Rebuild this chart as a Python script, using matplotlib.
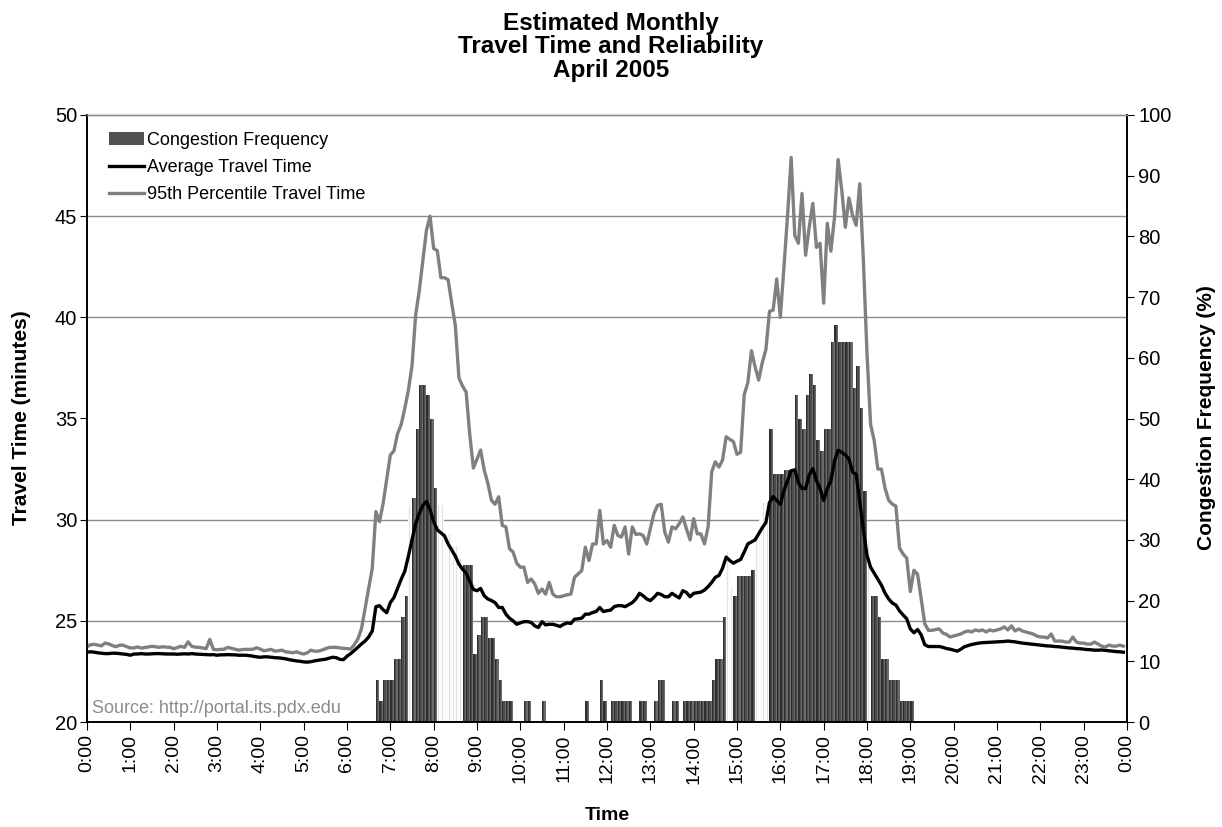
import numpy as np
import matplotlib
matplotlib.use('Agg')
import matplotlib.pyplot as plt
from matplotlib.patches import Patch
from matplotlib.lines import Line2D

plt.rcParams['font.family'] = ['Liberation Sans', 'DejaVu Sans']

# Average travel time (minutes), one value every 5 min, one row per hour
avg_time = [
    23.45, 23.47, 23.45, 23.42, 23.40, 23.38, 23.38, 23.40, 23.40, 23.38, 23.36, 23.34,
    23.30, 23.36, 23.36, 23.38, 23.36, 23.36, 23.37, 23.38, 23.38, 23.37, 23.36, 23.36,
    23.36, 23.35, 23.36, 23.37, 23.36, 23.38, 23.36, 23.35, 23.34, 23.33, 23.32, 23.33,
    23.30, 23.32, 23.32, 23.33, 23.32, 23.32, 23.30, 23.30, 23.30, 23.28, 23.25, 23.22,
    23.20, 23.22, 23.22, 23.20, 23.18, 23.17, 23.15, 23.12, 23.08, 23.05, 23.02, 23.00,
    22.97, 22.96, 22.98, 23.02, 23.05, 23.08, 23.10, 23.15, 23.20, 23.18, 23.10, 23.08,
    23.25, 23.38, 23.53, 23.69, 23.86, 24.00, 24.20, 24.50, 25.70, 25.75, 25.55, 25.40,
    25.90, 26.15, 26.60, 27.05, 27.45, 28.20, 29.00, 29.80, 30.30, 30.70, 30.90, 30.50,
    29.90, 29.50, 29.35, 29.20, 28.80, 28.50, 28.20, 27.80, 27.55, 27.35, 26.95, 26.55,
    26.49, 26.60, 26.24, 26.08, 26.00, 25.90, 25.66, 25.66, 25.33, 25.13, 25.00, 24.83,
    24.90, 24.96, 24.96, 24.92, 24.75, 24.67, 24.96, 24.80, 24.83, 24.83, 24.78, 24.72,
    24.83, 24.90, 24.87, 25.08, 25.10, 25.13, 25.33, 25.33, 25.41, 25.46, 25.66, 25.46,
    25.50, 25.53, 25.70, 25.75, 25.75, 25.70, 25.80, 25.90, 26.08, 26.36, 26.24, 26.08,
    26.00, 26.16, 26.36, 26.30, 26.19, 26.19, 26.36, 26.24, 26.13, 26.49, 26.40, 26.19,
    26.36, 26.39, 26.42, 26.52, 26.69, 26.90, 27.15, 27.24, 27.60, 28.15, 27.98, 27.85,
    27.95, 28.03, 28.40, 28.80, 28.90, 29.00, 29.30, 29.60, 29.86, 30.85, 31.14, 30.95,
    30.75, 31.44, 31.93, 32.42, 32.46, 31.83, 31.54, 31.54, 32.22, 32.52, 31.93, 31.54,
    30.95, 31.53, 31.92, 32.90, 33.43, 33.33, 33.20, 33.00, 32.35, 32.25, 30.88, 29.50,
    28.24, 27.65, 27.35, 27.06, 26.76, 26.37, 26.08, 25.88, 25.78, 25.49, 25.29, 25.10,
    24.60, 24.41, 24.57, 24.31, 23.82, 23.73, 23.73, 23.73, 23.73, 23.69, 23.63, 23.60,
    23.55, 23.50, 23.60, 23.72, 23.78, 23.83, 23.87, 23.90, 23.92, 23.93, 23.94, 23.95,
    23.96, 23.97, 23.98, 24.00, 23.98, 23.96, 23.93, 23.90, 23.88, 23.86, 23.84, 23.82,
    23.80, 23.78, 23.76, 23.75, 23.73, 23.72, 23.70, 23.68, 23.66, 23.65, 23.63, 23.62,
    23.60, 23.58, 23.57, 23.55, 23.55, 23.56, 23.54, 23.52, 23.50, 23.48, 23.47, 23.45,
]

# 95th percentile travel time (minutes)
p95_time = [
    23.72, 23.82, 23.84, 23.80, 23.76, 23.90, 23.86, 23.78, 23.72, 23.79, 23.80, 23.72,
    23.66, 23.66, 23.71, 23.65, 23.68, 23.71, 23.74, 23.72, 23.69, 23.72, 23.70, 23.69,
    23.62, 23.68, 23.74, 23.69, 23.96, 23.74, 23.70, 23.69, 23.66, 23.62, 24.08, 23.59,
    23.57, 23.59, 23.60, 23.69, 23.64, 23.60, 23.55, 23.58, 23.59, 23.59, 23.60, 23.67,
    23.60, 23.52, 23.55, 23.59, 23.50, 23.52, 23.55, 23.47, 23.45, 23.42, 23.47, 23.40,
    23.36, 23.42, 23.55, 23.50, 23.50, 23.55, 23.62, 23.68, 23.69, 23.69, 23.66, 23.64,
    23.63, 23.60, 23.82, 24.10, 24.60, 25.60, 26.60, 27.60, 30.40, 29.90, 30.80, 32.00,
    33.20, 33.40, 34.25, 34.70, 35.50, 36.40, 37.60, 40.10, 41.30, 42.80, 44.30, 45.00,
    43.40, 43.30, 41.96, 41.96, 41.86, 40.70, 39.60, 37.00, 36.60, 36.30, 34.20, 32.55,
    33.00, 33.44, 32.45, 31.80, 30.96, 30.76, 31.13, 29.72, 29.64, 28.56, 28.40, 27.85,
    27.65, 27.65, 26.90, 27.07, 26.82, 26.36, 26.57, 26.32, 26.90, 26.32, 26.19, 26.19,
    26.24, 26.29, 26.32, 27.15, 27.32, 27.48, 28.64, 27.98, 28.80, 28.80, 30.46, 28.80,
    28.97, 28.64, 29.72, 29.22, 29.14, 29.64, 28.30, 29.64, 29.27, 29.30, 29.22, 28.80,
    29.55, 30.30, 30.71, 30.76, 29.39, 28.89, 29.64, 29.55, 29.80, 30.13, 29.55, 29.00,
    30.05, 29.30, 29.30, 28.80, 29.64, 32.37, 32.86, 32.60, 32.95, 34.10, 33.97, 33.86,
    33.23, 33.33, 36.18, 36.77, 38.35, 37.56, 36.90, 37.76, 38.40, 40.30, 40.35, 41.90,
    40.00, 42.48, 45.04, 47.90, 44.05, 43.66, 46.12, 43.07, 44.45, 45.63, 43.46, 43.66,
    40.70, 44.65, 43.27, 44.94, 47.80, 46.30, 44.45, 45.90, 45.04, 44.55, 46.60, 42.80,
    38.20, 34.70, 33.90, 32.50, 32.50, 31.55, 30.96, 30.77, 30.67, 28.60, 28.30, 28.10,
    26.45, 27.50, 27.30, 26.10, 24.86, 24.53, 24.53, 24.57, 24.60, 24.40, 24.33, 24.20,
    24.25, 24.30, 24.35, 24.45, 24.50, 24.45, 24.55, 24.50, 24.55, 24.45, 24.55, 24.50,
    24.55, 24.60, 24.70, 24.55, 24.75, 24.50, 24.60, 24.50, 24.45, 24.40, 24.35, 24.25,
    24.20, 24.20, 24.15, 24.35, 24.00, 24.00, 24.00, 23.95, 23.95, 24.20, 23.95, 23.90,
    23.90, 23.85, 23.85, 23.95, 23.85, 23.75, 23.70, 23.80, 23.75, 23.75, 23.80, 23.75,
]

# Congestion frequency (%), same 5 min slots
congestion_pct = [
    0, 0, 0, 0, 0, 0, 0, 0, 0, 0, 0, 0,
    0, 0, 0, 0, 0, 0, 0, 0, 0, 0, 0, 0,
    0, 0, 0, 0, 0, 0, 0, 0, 0, 0, 0, 0,
    0, 0, 0, 0, 0, 0, 0, 0, 0, 0, 0, 0,
    0, 0, 0, 0, 0, 0, 0, 0, 0, 0, 0, 0,
    0, 0, 0, 0, 0, 0, 0, 0, 0, 0, 0, 0,
    0, 0, 0, 0, 0, 0, 0, 0, 6.9, 3.4, 6.9, 6.9,
    6.9, 10.3, 10.3, 17.3, 20.7, 0, 36.9, 48.2, 55.6, 55.6, 53.9, 50.0,
    38.6, 0, 0, 0, 0, 0, 0, 0, 25.9, 25.9, 25.9, 11.2,
    14.4, 17.3, 17.3, 13.9, 13.9, 10.3, 6.9, 3.4, 3.4, 3.4, 0, 0,
    0, 3.4, 3.4, 0, 0, 0, 3.4, 0, 0, 0, 0, 0,
    0, 0, 0, 0, 0, 0, 3.4, 0, 0, 0, 6.9, 3.4,
    0, 3.4, 3.4, 3.4, 3.4, 3.4, 3.4, 0, 0, 3.4, 3.4, 0,
    0, 3.4, 6.9, 6.9, 0, 0, 3.4, 3.4, 0, 3.4, 3.4, 3.4,
    3.4, 3.4, 3.4, 3.4, 3.4, 6.9, 10.3, 10.3, 17.3, 0, 0, 20.7,
    24.1, 24.1, 24.1, 24.1, 25.1, 0, 0, 0, 0, 48.3, 40.9, 40.9,
    40.9, 41.5, 41.5, 41.5, 53.8, 50.0, 48.3, 53.8, 57.3, 55.5, 46.4, 44.6,
    48.3, 48.3, 62.6, 65.4, 62.6, 62.6, 62.6, 62.6, 55.1, 58.7, 51.8, 38.1,
    0, 20.7, 20.7, 17.3, 10.3, 10.3, 7.0, 7.0, 7.0, 3.4, 3.4, 3.4,
    3.4, 0, 0, 0, 0, 0, 0, 0, 0, 0, 0, 0,
    0, 0, 0, 0, 0, 0, 0, 0, 0, 0, 0, 0,
    0, 0, 0, 0, 0, 0, 0, 0, 0, 0, 0, 0,
    0, 0, 0, 0, 0, 0, 0, 0, 0, 0, 0, 0,
    0, 0, 0, 0, 0, 0, 0, 0, 0, 0, 0, 0,
]

# bars that came out almost white in the original (they hide the grid, faint lines only)
ghost_times = ['7:25', '8:05', '8:10', '8:15', '8:20', '8:25', '8:30', '8:35',
               '14:45', '14:50', '15:25', '15:30', '15:35', '15:40', '18:00']
ghost_pct = [35.7, 35.7, 35.7, 31.0, 31.0, 29.0, 29.0, 27.0,
             28.0, 22.0, 30.0, 35.0, 36.0, 36.0, 30.0]

hour_labels = ['0:00', '1:00', '2:00', '3:00', '4:00', '5:00', '6:00', '7:00',
               '8:00', '9:00', '10:00', '11:00', '12:00', '13:00', '14:00', '15:00',
               '16:00', '17:00', '18:00', '19:00', '20:00', '21:00', '22:00', '23:00', '0:00']

# --------------------------------------------------------------------------

t = np.arange(len(avg_time)) / 12.0   # hours
w = 1.0 / 12.0
pct = np.array(congestion_pct)

fig = plt.figure(figsize=(12.22, 8.27), dpi=100)
ax = fig.add_axes([87 / 1222, 1 - 722 / 827, 1040 / 1222, 607 / 827])
ax2 = ax.twinx()
ax.set_zorder(ax2.get_zorder() + 1)
ax.patch.set_visible(False)

# bars with a left-to-right shading like the excel gradient
shades = ['#2f2f2f', '#4d4d4d', '#6b6b6b']
for j, c in enumerate(shades):
    ax2.bar(t + j * w / 3, pct, width=w / 3, align='edge', color=c, linewidth=0)

gt = np.array([int(s.split(':')[0]) + int(s.split(':')[1]) / 60.0 for s in ghost_times])
ax2.bar(gt, ghost_pct, width=w, align='edge', color='#fbfbfb', linewidth=0)
ax2.bar(gt + w * 0.3, ghost_pct, width=w * 0.2, align='edge', color='#e2e2e2', linewidth=0)

# gridlines every 5 minutes of the left axis, behind the bars
ax2.set_ylim(0, 100)
ax2.set_yticks(np.arange(0, 101, 10))
ax2.set_yticks(np.linspace(0, 100, 7), minor=True)
ax2.grid(which='minor', axis='y', color='#8c8c8c', linewidth=1.0)
ax2.set_axisbelow(True)
ax2.tick_params(axis='y', which='minor', length=0)
ax2.tick_params(axis='y', which='major', direction='out', length=5, labelsize=14.5, pad=3)

ax.plot(t, avg_time, color='black', lw=2.4, solid_joinstyle='round')
ax.plot(t, p95_time, color='#808080', lw=2.4, solid_joinstyle='round')

ax.set_xlim(0, 24)
ax.set_ylim(20, 50)
ax.set_yticks(np.arange(20, 51, 5))
ax.set_xticks(np.arange(0, 25, 1))
ax.set_xticklabels(hour_labels, rotation=90)
ax.tick_params(axis='y', direction='out', length=5, labelsize=14.5, pad=2)
ax.tick_params(axis='x', direction='out', length=6, labelsize=14, pad=3)

for a in (ax, ax2):
    a.spines['top'].set_color('#8c8c8c')
    a.spines['top'].set_linewidth(1.0)
    for s in ('left', 'right', 'bottom'):
        a.spines[s].set_linewidth(1.2)

handles = [Patch(facecolor='#505050', edgecolor='none'),
           Line2D([], [], color='black', lw=2.4),
           Line2D([], [], color='#808080', lw=2.4)]
labels = ['Congestion Frequency', 'Average Travel Time', '95th Percentile Travel Time']
ax.legend(handles, labels, loc='upper left', bbox_to_anchor=(0.021, 0.972), frameon=False,
          fontsize=13, handlelength=1.95, handletextpad=0.15, labelspacing=0.55,
          borderaxespad=0, borderpad=0)

ax.text(0.005, 0.022, 'Source: http://portal.its.pdx.edu', transform=ax.transAxes,
        fontsize=13, color='#8c8c8c', ha='left', va='center')

fig.text(611 / 1222, 1 - 12 / 827, 'Estimated Monthly\nTravel Time and Reliability\nApril 2005',
         ha='center', va='top', fontsize=17.5, fontweight='bold', linespacing=1.02)
fig.text(22 / 1222, 1 - 418 / 827, 'Travel Time (minutes)', rotation=90,
         ha='center', va='center', fontsize=15, fontweight='bold')
fig.text(1207 / 1222, 1 - 418 / 827, 'Congestion Frequency (%)', rotation=90,
         ha='center', va='center', fontsize=15, fontweight='bold')
fig.text(607 / 1222, 1 - 815 / 827, 'Time', ha='center', va='center',
         fontsize=14, fontweight='bold')

fig.savefig('out.png', dpi=100)
